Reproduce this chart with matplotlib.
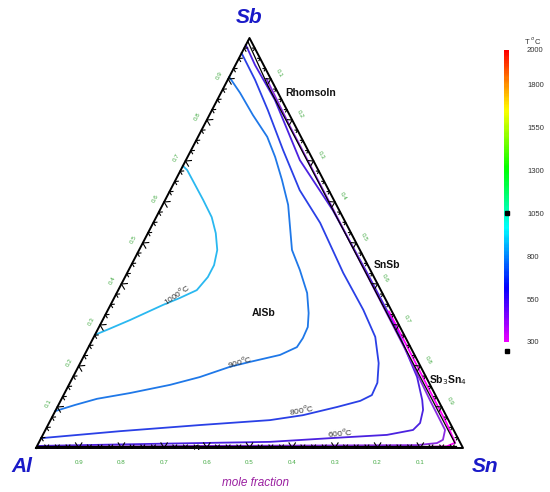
import numpy as np
import matplotlib
matplotlib.use('Agg')
import matplotlib.pyplot as plt
from matplotlib.colors import LinearSegmentedColormap, Normalize
from matplotlib.cm import ScalarMappable

plt.rcParams['font.family'] = ['Liberation Sans', 'DejaVu Sans']

# liquidus isotherms of Al-Sb-Sn, mole fractions (x_Sn, x_Sb)
t1000_sn = [0.0, 0.015, 0.089, 0.130, 0.159, 0.183, 0.194, 0.194, 0.184, 0.154, 0.123, 0.064, 0.022, 0.0]
t1000_sb = [0.688, 0.678, 0.605, 0.563, 0.524, 0.483, 0.446, 0.417, 0.385, 0.366, 0.349, 0.312, 0.288, 0.276]

t900_sn = [0.0, 0.045, 0.102, 0.162, 0.205, 0.249, 0.294, 0.358, 0.401, 0.446, 0.474, 0.489, 0.491,
           0.488, 0.458, 0.396, 0.355, 0.297, 0.237, 0.153, 0.083, 0.039, 0.0]
t900_sb = [0.905, 0.866, 0.812, 0.759, 0.710, 0.654, 0.593, 0.483, 0.434, 0.378, 0.329, 0.295, 0.268,
           0.246, 0.227, 0.210, 0.198, 0.173, 0.154, 0.134, 0.120, 0.105, 0.090]

t800_sn = [0.0, 0.064, 0.131, 0.215, 0.303, 0.391, 0.506, 0.598, 0.659, 0.699, 0.720, 0.722,
           0.702, 0.655, 0.585, 0.514, 0.356, 0.176, 0.0]
t800_sb = [0.963, 0.898, 0.824, 0.727, 0.629, 0.549, 0.427, 0.337, 0.271, 0.207, 0.159, 0.129,
           0.115, 0.100, 0.080, 0.068, 0.056, 0.041, 0.024]

t600_sn = [0.0, 0.046, 0.135, 0.267, 0.405, 0.562, 0.702, 0.806, 0.846, 0.860, 0.869, 0.861,
           0.806, 0.677, 0.541, 0.262, 0.002]
t600_sb = [0.983, 0.934, 0.849, 0.702, 0.580, 0.427, 0.288, 0.173, 0.117, 0.093, 0.061, 0.044,
           0.032, 0.024, 0.015, 0.010, 0.005]

t500_sn = [0.090, 0.200, 0.400, 0.600, 0.750, 0.864, 0.936, 0.943, 0.933, 0.888, 0.381, 0.004]
t500_sb = [0.900, 0.787, 0.587, 0.386, 0.235, 0.117, 0.044, 0.020, 0.012, 0.007, 0.005, 0.003]

t300_sn = [0.660, 0.750, 0.850, 0.930, 0.975, 0.960, 0.920]
t300_sb = [0.333, 0.243, 0.142, 0.062, 0.013, 0.004, 0.003]

isotherm_T = [1000, 900, 800, 600, 500, 300]
isotherm_sn = [t1000_sn, t900_sn, t800_sn, t600_sn, t500_sn, t300_sn]
isotherm_sb = [t1000_sb, t900_sb, t800_sb, t600_sb, t500_sb, t300_sb]
isotherm_colors = ['#2ab8f0', '#1f78e8', '#2a40e6', '#4b22e0', '#8a2be2', '#ff00ff']

# isotherm labels: temperature, (x_Sn, x_Sb), rotation
label_T = [1000, 900, 800, 600]
label_sn = [0.140, 0.372, 0.575, 0.692]
label_sb = [0.376, 0.212, 0.095, 0.039]
label_rot = [34, 16, 10, 5]

# primary phase fields
phase_names = ['Rhomsoln', 'SnSb', 'Sb$_3$Sn$_4$', 'AlSb']
phase_sn = [0.209, 0.599, 0.882, 0.369]
phase_sb = [0.866, 0.446, 0.166, 0.329]

# narrow fields along the binaries
edge_rh_sn = [0.0, 0.10, 0.975]
edge_rh_sb = [0.992, 0.885, 0.012]
edge_al_sn = [0.0, 0.98]
edge_al_sb = [0.006, 0.006]

cbar_ticks = [300, 550, 800, 1050, 1300, 1550, 1800, 2000]
frac_ticks = [0.1, 0.2, 0.3, 0.4, 0.5, 0.6, 0.7, 0.8, 0.9]


def tern(sn, sb):
    sn = np.asarray(sn, float)
    sb = np.asarray(sb, float)
    return sn + 0.5 * sb, sb


PX, PY = 1 / 427, 1 / 410

fig = plt.figure(figsize=(5.5, 4.92), dpi=100)
ax = fig.add_axes([0, 0, 1, 1])
ax.set_xlim(-36 * PX, 514 * PX)
ax.set_ylim(-44 * PY, 448 * PY)
ax.axis('off')

# triangle
tx, ty = tern([0, 1, 0, 0], [0, 0, 1, 0])
ax.plot(tx, ty, color='black', lw=1.4, zorder=5)
for s, b in [(edge_rh_sn, edge_rh_sb), (edge_al_sn, edge_al_sb)]:
    x, y = tern(s, b)
    ax.plot(x, y, color='black', lw=0.9, zorder=5)

# chevron marks along the edges
def chevrons(p0, p1, normal, big=6.0, small=3.5, half=32):
    a = np.radians(half)
    t = np.array(p1, float) - np.array(p0, float)
    tp = np.array([t[0] / PX, t[1] / PY])
    tp /= np.hypot(*tp)
    n = np.array(normal, float)
    n /= np.hypot(*n)
    for f in np.arange(0.025, 0.999, 0.025):
        L = big if abs(f * 10 - round(f * 10)) < 1e-6 else small
        vx = p0[0] + f * (p1[0] - p0[0])
        vy = p0[1] + f * (p1[1] - p0[1])
        for sgn in (-1, 1):
            d = n * np.cos(a) + sgn * tp * np.sin(a)
            ax.plot([vx, vx + L * d[0] * PX], [vy, vy + L * d[1] * PY],
                    color='black', lw=0.8, zorder=5)


al = (0.0, 0.0)
sn = (1.0, 0.0)
sb = (0.5, 1.0)
chevrons(al, sn, (0, 1))
chevrons(al, sb, (0.889, -0.458))
chevrons(sn, sb, (-0.885, -0.466), big=5.0, small=2.5)

# isotherms
for T, s, b, c in zip(isotherm_T, isotherm_sn, isotherm_sb, isotherm_colors):
    x, y = tern(s, b)
    ax.plot(x, y, color=c, lw=1.3, zorder=4)

for T, s, b, r in zip(label_T, label_sn, label_sb, label_rot):
    x, y = tern(s, b)
    ax.text(x, y, f'{T}$^o$C', fontsize=6, color='#333333', rotation=r,
            ha='center', va='center', zorder=6)

for name, s, b in zip(phase_names, phase_sn, phase_sb):
    x, y = tern(s, b)
    ax.text(x, y, name, fontsize=7.5, fontweight='bold', color='#111111',
            ha='center', va='center', zorder=6)
x, y = tern(0.377, 0.0)
ax.text(x, y, 'Al', fontsize=5.5, color='#111111', ha='center', va='center', zorder=6)

# fraction labels
green = '#44aa44'
for f in frac_ticks:
    x, y = tern(f, 0)
    ax.text(x, y - 14 * PY, f'{1 - f:.1f}', fontsize=4.5, color=green, ha='center', va='center')
    x, y = tern(0, f)
    ax.text(x - 9 * PX, y + 4 * PY, f'{f:.1f}', fontsize=4.5, color=green,
            rotation=62, ha='center', va='center')
    x, y = tern(1 - f, f)
    ax.text(x + 8 * PX, y + 6 * PY, f'{1 - f:.1f}', fontsize=4.5, color=green,
            rotation=-62, ha='center', va='center')

# component names
blue = '#1a1ac8'
x, y = tern(0, 1)
ax.text(x, y + 21 * PY, 'Sb', fontsize=15, fontweight='bold', style='italic',
        color=blue, ha='center', va='center')
ax.text(-14 * PX, -19 * PY, 'Al', fontsize=15, fontweight='bold', style='italic',
        color=blue, ha='center', va='center')
ax.text(1 + 22 * PX, -19 * PY, 'Sn', fontsize=15, fontweight='bold', style='italic',
        color=blue, ha='center', va='center')
ax.text(0.5 + 6 * PX, -35 * PY, 'mole fraction', fontsize=8.5, style='italic',
        color='#9a1fa0', ha='center', va='center')

# temperature colour bar
cmap = LinearSegmentedColormap.from_list('tbar', plt.cm.hsv(np.linspace(5 / 6, 0, 256)))
norm = Normalize(300, 2000)
cax = fig.add_axes([504 / 550, 1 - 342 / 492, 5 / 550, 292 / 492])
cb = fig.colorbar(ScalarMappable(norm=norm, cmap=cmap), cax=cax, ticks=cbar_ticks)
cb.outline.set_visible(False)
cax.tick_params(length=0, pad=13, labelsize=5.5, colors='#333333')
cax.plot([0.5, 0.5], [1050, 245], 's', color='black', ms=3.5, clip_on=False, zorder=5)
cax.set_xlim(0, 1)
cax.set_ylim(300, 2000)
fig.text(533 / 550, 1 - 40 / 492, 'T $^o$C', fontsize=5.5, color='#333333', ha='center', va='center')

fig.savefig('out.png', dpi=100)
